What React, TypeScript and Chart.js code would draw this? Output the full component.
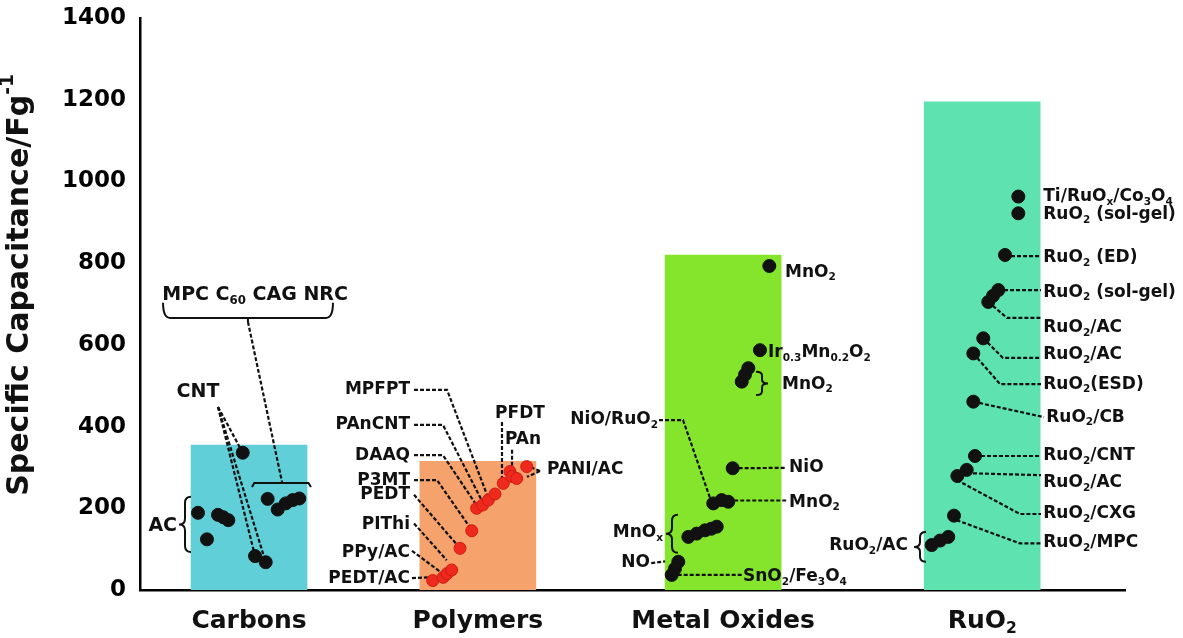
import { useEffect, useRef } from "react";
import { Chart, registerables } from "chart.js";

Chart.register(...registerables);

// ---------- data ----------
const categories = ["Carbons", "Polymers", "Metal Oxides", "RuO_2"];
const categoryCenters = [1.107, 3.43, 5.92, 8.55];
const categoryMax = [355, 315, 820, 1195];
const yTickStep = 200;
const yMax = 1400;

const carbonX = [0.589, 0.68, 0.792, 0.846, 0.897, 1.043, 1.168, 1.276, 1.296, 1.398, 1.48, 1.55, 1.617];
const carbonY = [189, 124, 184, 178, 171, 336, 83, 68, 223, 197, 212, 220, 224];

const polymerX = [2.972, 3.079, 3.117, 3.164, 3.249, 3.368, 3.418, 3.479, 3.536, 3.604, 3.688, 3.756, 3.777, 3.824, 3.926];
const polymerY = [23, 31, 40, 49, 102, 145, 200, 208, 220, 235, 261, 290, 278, 273, 302];

const metalX = [6.389, 6.294, 6.176, 6.109, 6.142, 6.017, 5.82, 5.905, 5.972, 5.567, 5.652, 5.736, 5.8, 5.855, 5.465, 5.431, 5.398];
const metalY = [793, 587, 543, 510, 527, 298, 212, 220, 216, 130, 138, 146, 150, 155, 69, 52, 37];

const rutheniumX = [8.917, 8.917, 8.782, 8.714, 8.66, 8.612, 8.561, 8.46, 8.46, 8.477, 8.393, 8.298, 8.264, 8.037, 8.122, 8.206];
const rutheniumY = [963, 922, 820, 734, 720, 705, 616, 579, 461, 328, 294, 279, 182, 110, 121, 130];

// ---------- annotations (data units) ----------
type Align = "left" | "right" | "center";
const noteLabels: { t: string; x: number; y: number; a: Align; s: number }[] = [
  { t: "AC", x: 0.376, y: 157, a: "right", s: 19 },
  { t: "CNT", x: 0.589, y: 485, a: "center", s: 19 },
  { t: "MPC C_{60} CAG NRC", x: 1.168, y: 722, a: "center", s: 19 },
  { t: "MPFPT", x: 2.741, y: 490, a: "right", s: 17 },
  { t: "PAnCNT", x: 2.741, y: 404, a: "right", s: 17 },
  { t: "DAAQ", x: 2.741, y: 330, a: "right", s: 17 },
  { t: "P3MT", x: 2.741, y: 269, a: "right", s: 17 },
  { t: "PEDT", x: 2.741, y: 233, a: "right", s: 17 },
  { t: "PIThi", x: 2.741, y: 159, a: "right", s: 17 },
  { t: "PPy/AC", x: 2.741, y: 91, a: "right", s: 17 },
  { t: "PEDT/AC", x: 2.741, y: 29, a: "right", s: 17 },
  { t: "PFDT", x: 3.858, y: 433, a: "center", s: 17 },
  { t: "PAn", x: 3.888, y: 367, a: "center", s: 17 },
  { t: "PANI/AC", x: 4.132, y: 294, a: "left", s: 17 },
  { t: "MnO_2", x: 6.548, y: 778, a: "left", s: 17 },
  { t: "Ir_{0.3}Mn_{0.2}O_2", x: 6.376, y: 580, a: "left", s: 17 },
  { t: "MnO_2", x: 6.518, y: 504, a: "left", s: 17 },
  { t: "NiO/RuO_2", x: 5.259, y: 416, a: "right", s: 17 },
  { t: "NiO", x: 6.59, y: 299, a: "left", s: 17 },
  { t: "MnO_2", x: 6.59, y: 215, a: "left", s: 17 },
  { t: "MnO_x", x: 5.31, y: 140, a: "right", s: 17 },
  { t: "NO", x: 5.178, y: 66, a: "right", s: 17 },
  { t: "SnO_2/Fe_3O_4", x: 6.122, y: 32, a: "left", s: 17 },
  { t: "Ti/RuO_x/Co_3O_4", x: 9.17, y: 962, a: "left", s: 17 },
  { t: "RuO_2 (sol-gel)", x: 9.17, y: 918, a: "left", s: 17 },
  { t: "RuO_2 (ED)", x: 9.17, y: 813, a: "left", s: 17 },
  { t: "RuO_2 (sol-gel)", x: 9.17, y: 729, a: "left", s: 17 },
  { t: "RuO_2/AC", x: 9.17, y: 642, a: "left", s: 17 },
  { t: "RuO_2/AC", x: 9.17, y: 575, a: "left", s: 17 },
  { t: "RuO_2(ESD)", x: 9.17, y: 504, a: "left", s: 17 },
  { t: "RuO_2/CB", x: 9.2, y: 423, a: "left", s: 17 },
  { t: "RuO_2/CNT", x: 9.17, y: 328, a: "left", s: 17 },
  { t: "RuO_2/AC", x: 9.17, y: 262, a: "left", s: 17 },
  { t: "RuO_2/CXG", x: 9.17, y: 186, a: "left", s: 17 },
  { t: "RuO_2/MPC", x: 9.17, y: 115, a: "left", s: 17 },
  { t: "RuO_2/AC", x: 7.797, y: 108, a: "right", s: 17 },
];

const leaderLines: number[][][] = [
  [[0.792, 448], [1.043, 336]],
  [[0.792, 448], [1.168, 83]],
  [[0.792, 448], [1.276, 68]],
  [[1.096, 656], [1.442, 264]],
  [[2.782, 490], [3.117, 490], [3.523, 233]],
  [[2.782, 404], [3.076, 404], [3.472, 218]],
  [[2.782, 330], [3.076, 330], [3.401, 213]],
  [[2.782, 269], [3.015, 269], [3.368, 147]],
  [[2.782, 233], [3.228, 108]],
  [[2.782, 163], [3.113, 73]],
  [[2.761, 96], [3.046, 45]],
  [[2.761, 29], [2.927, 31]],
  [[3.675, 411], [3.675, 262]],
  [[3.777, 343], [3.777, 301]],
  [[4.061, 291], [3.959, 301]],
  [[4.061, 291], [3.929, 277]],
  [[5.269, 416], [5.513, 416], [5.787, 225]],
  [[6.017, 298], [6.56, 299]],
  [[5.972, 219], [6.56, 219]],
  [[5.19, 66], [5.33, 70]],
  [[5.398, 37], [6.112, 37]],
  [[8.782, 817], [9.147, 817]],
  [[8.711, 734], [9.147, 734]],
  [[8.612, 705], [8.802, 666], [9.147, 666]],
  [[8.561, 616], [8.761, 568], [9.147, 568]],
  [[8.46, 579], [8.731, 504], [9.147, 504]],
  [[8.46, 461], [9.178, 423]],
  [[8.477, 328], [9.147, 328]],
  [[8.396, 286], [9.147, 281]],
  [[8.294, 269], [8.934, 186], [9.147, 186]],
  [[8.29, 171], [8.934, 114], [9.147, 114]],
];

const solidLines: number[][][] = [
  [[1.137, 252], [1.16, 262], [1.71, 262], [1.736, 252]],
  [[1.096, 666], [1.096, 656]],
];

// vertical curly braces: spine x, top, bottom, tip direction (-1 left, 1 right)
const curlyBraces: number[][] = [
  [0.457, 228, 93, -1],
  [6.315, 534, 477, 1],
  [5.401, 184, 91, -1],
  [7.919, 142, 69, -1],
];
// horizontal bracket: x1, x2, end y, line y
const hBrackets: number[][] = [[0.234, 1.959, 703, 666]];

const yTitle = "Specific Capacitance/Fg^{-1}";
const barColors = ["#60cfd8", "#f5a26c", "#84e52c", "#5ee3b0"];
const FONT = "'DejaVu Sans', 'Liberation Sans', Arial, sans-serif";

// ---------- rich text helpers ----------
type Seg = { t: string; m: number };
function parseRich(s: string): Seg[] {
  const out: Seg[] = [];
  let buf = "";
  let i = 0;
  while (i < s.length) {
    const c = s[i];
    if (c === "_" || c === "^") {
      if (buf) { out.push({ t: buf, m: 0 }); buf = ""; }
      const m = c === "_" ? 1 : 2;
      if (s[i + 1] === "{") {
        const j = s.indexOf("}", i + 2);
        out.push({ t: s.slice(i + 2, j), m });
        i = j + 1;
      } else {
        out.push({ t: s[i + 1], m });
        i += 2;
      }
      continue;
    }
    buf += c;
    i++;
  }
  if (buf) out.push({ t: buf, m: 0 });
  return out;
}

function drawRich(ctx: CanvasRenderingContext2D, s: string, x: number, y: number, size: number, align: Align) {
  const segs = parseRich(s);
  const sizes = segs.map((g) => (g.m ? size * 0.62 : size));
  const widths = segs.map((g, k) => {
    ctx.font = `bold ${sizes[k]}px ${FONT}`;
    return ctx.measureText(g.t).width;
  });
  const total = widths.reduce((a, b) => a + b, 0);
  let cx = align === "left" ? x : align === "right" ? x - total : x - total / 2;
  ctx.textAlign = "left";
  ctx.textBaseline = "middle";
  segs.forEach((g, k) => {
    ctx.font = `bold ${sizes[k]}px ${FONT}`;
    const dy = g.m === 1 ? size * 0.32 : g.m === 2 ? -size * 0.38 : 0;
    ctx.fillText(g.t, cx, y + dy);
    cx += widths[k];
  });
}

const annotPlugin = {
  id: "annot",
  afterDatasetDraw(chart: any, args: any) {
    if (args.index !== 0) return;
    const ctx: CanvasRenderingContext2D = chart.ctx;
    const xs = chart.scales.x;
    const ys = chart.scales.y;
    const X = (v: number) => xs.getPixelForValue(v);
    const Y = (v: number) => ys.getPixelForValue(v);
    ctx.save();
    ctx.strokeStyle = "#111";
    ctx.lineWidth = 2.2;
    ctx.setLineDash([4, 2]);
    leaderLines.forEach((pl) => {
      ctx.beginPath();
      pl.forEach((p, k) => (k ? ctx.lineTo(X(p[0]), Y(p[1])) : ctx.moveTo(X(p[0]), Y(p[1]))));
      ctx.stroke();
    });
    ctx.setLineDash([]);
    ctx.lineWidth = 2;
    solidLines.forEach((pl) => {
      ctx.beginPath();
      pl.forEach((p, k) => (k ? ctx.lineTo(X(p[0]), Y(p[1])) : ctx.moveTo(X(p[0]), Y(p[1]))));
      ctx.stroke();
    });
    curlyBraces.forEach(([sx, t, b, dir]) => {
      const x = X(sx);
      const y1 = Y(t);
      const y2 = Y(b);
      const ym = (y1 + y2) / 2;
      const w = 6 * dir;
      const r = Math.min(6, (y2 - y1) / 6);
      ctx.beginPath();
      ctx.moveTo(x - w, y1);
      ctx.quadraticCurveTo(x, y1, x, y1 + r);
      ctx.lineTo(x, ym - r);
      ctx.quadraticCurveTo(x, ym, x + w, ym);
      ctx.quadraticCurveTo(x, ym, x, ym + r);
      ctx.lineTo(x, y2 - r);
      ctx.quadraticCurveTo(x, y2, x - w, y2);
      ctx.stroke();
    });
    hBrackets.forEach(([a, b, ye, yl]) => {
      const x1 = X(a);
      const x2 = X(b);
      const y1 = Y(ye);
      const y2 = Y(yl);
      ctx.beginPath();
      ctx.moveTo(x1, y1);
      ctx.quadraticCurveTo(x1, y2, x1 + 7, y2);
      ctx.lineTo(x2 - 7, y2);
      ctx.quadraticCurveTo(x2, y2, x2, y1);
      ctx.stroke();
    });
    ctx.restore();
  },
  afterDraw(chart: any) {
    const ctx: CanvasRenderingContext2D = chart.ctx;
    const xs = chart.scales.x;
    const ys = chart.scales.y;
    ctx.save();
    ctx.fillStyle = "#111";
    noteLabels.forEach((n) => drawRich(ctx, n.t, xs.getPixelForValue(n.x), ys.getPixelForValue(n.y), n.s, n.a));
    categories.forEach((c, i) => drawRich(ctx, c, xs.getPixelForValue(categoryCenters[i]), chart.chartArea.bottom + 31, 25, "center"));
    ctx.translate(20, (ys.top + ys.bottom) / 2 - 19);
    ctx.rotate(-Math.PI / 2);
    drawRich(ctx, yTitle, 0, 0, 30, "center");
    ctx.restore();
  },
};

export default function App() {
  const ref = useRef<HTMLCanvasElement>(null);
  useEffect(() => {
    const pt = (xsArr: number[], ysArr: number[]) => xsArr.map((x, i) => ({ x, y: ysArr[i] }));
    const chart = new Chart(ref.current as HTMLCanvasElement, {
      type: "bar",
      data: {
        datasets: [
          {
            type: "bar",
            data: categoryCenters.map((x, i) => ({ x, y: categoryMax[i] })),
            backgroundColor: barColors,
            barThickness: 116,
            order: 5,
          } as any,
          {
            type: "scatter",
            data: pt(carbonX, carbonY),
            backgroundColor: "#111",
            borderColor: "#111",
            pointRadius: 6.5,
            order: 1,
          } as any,
          {
            type: "scatter",
            data: pt(polymerX, polymerY),
            backgroundColor: "#ee2a1e",
            borderColor: "#d11a12",
            borderWidth: 1,
            pointRadius: 6,
            order: 1,
          } as any,
          {
            type: "scatter",
            data: pt(metalX, metalY),
            backgroundColor: "#111",
            borderColor: "#111",
            pointRadius: 6.5,
            order: 1,
          } as any,
          {
            type: "scatter",
            data: pt(rutheniumX, rutheniumY),
            backgroundColor: "#111",
            borderColor: "#111",
            pointRadius: 6.5,
            order: 1,
          } as any,
        ],
      },
      options: {
        animation: false,
        responsive: false,
        maintainAspectRatio: false,
        layout: { padding: { top: 18, right: 58, left: 0, bottom: 0 } },
        plugins: { legend: { display: false }, tooltip: { enabled: false } },
        events: [],
        scales: {
          x: {
            type: "linear",
            min: 0,
            max: 10,
            offset: false,
            grid: { display: false, drawTicks: false, offset: false },
            ticks: { display: false },
            border: { display: true, color: "#000", width: 2.5 },
            afterFit: (s: any) => { s.height = 48; s.paddingLeft = 0; s.paddingRight = 0; },
          },
          y: {
            type: "linear",
            min: 0,
            max: yMax,
            ticks: {
              stepSize: yTickStep,
              color: "#000",
              padding: 14,
              font: { family: FONT, weight: "bold", size: 23 },
              callback: (v: any) => String(v),
            },
            grid: { display: false, drawTicks: false },
            border: { display: true, color: "#000", width: 2.5 },
            afterFit: (s: any) => { s.width = 140; s.paddingTop = 0; s.paddingBottom = 0; },
          },
        },
      } as any,
      plugins: [annotPlugin],
    });
    return () => chart.destroy();
  }, []);
  return (
    <div style={{ position: "absolute", left: 0, top: 0, width: 1183, height: 638, background: "#fff" }}>
      <canvas ref={ref} width={1183} height={638} style={{ display: "block" }} />
    </div>
  );
}
